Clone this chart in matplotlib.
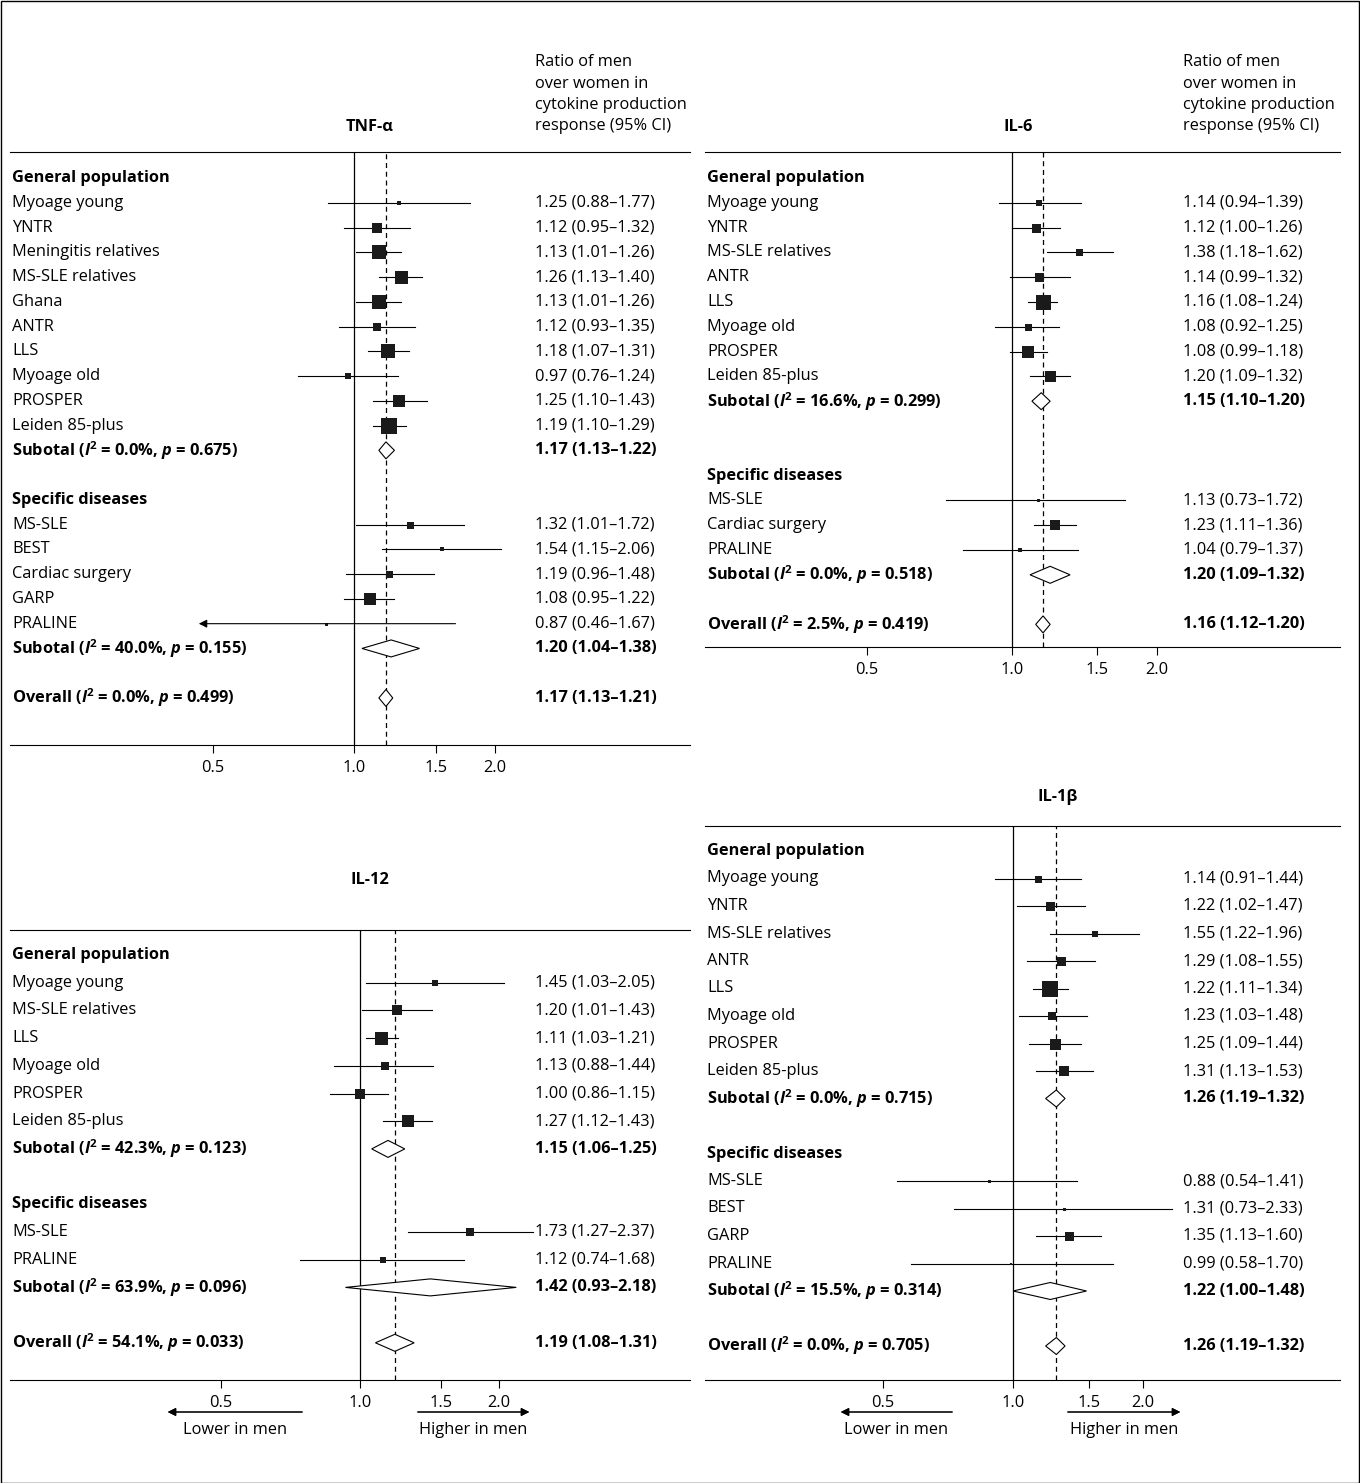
import matplotlib.pyplot as plt
import matplotlib.transforms as mtransforms
from matplotlib.patches import Polygon, Rectangle

plt.rcParams['font.family'] = ['Open Sans', 'DejaVu Sans']
plt.rcParams['mathtext.fontset'] = 'custom'
plt.rcParams['mathtext.rm'] = 'Open Sans'
plt.rcParams['mathtext.it'] = 'Open Sans:italic'
plt.rcParams['mathtext.bf'] = 'Open Sans:bold'
plt.rcParams['mathtext.bfit'] = 'Open Sans:bold:italic'

W, H = 1360, 1483
FS = 11.8

# ---- data ----
tnf_names = ['Myoage young', 'YNTR', 'Meningitis relatives', 'MS-SLE relatives', 'Ghana', 'ANTR', 'LLS',
             'Myoage old', 'PROSPER', 'Leiden 85-plus', 'MS-SLE', 'BEST', 'Cardiac surgery', 'GARP', 'PRALINE']
tnf_est = [1.25, 1.12, 1.13, 1.26, 1.13, 1.12, 1.18, 0.97, 1.25, 1.19, 1.32, 1.54, 1.19, 1.08, 0.87]
tnf_lo = [0.88, 0.95, 1.01, 1.13, 1.01, 0.93, 1.07, 0.76, 1.10, 1.10, 1.01, 1.15, 0.96, 0.95, 0.46]
tnf_hi = [1.77, 1.32, 1.26, 1.40, 1.26, 1.35, 1.31, 1.24, 1.43, 1.29, 1.72, 2.06, 1.48, 1.22, 1.67]
tnf_size = [5, 10, 14, 13, 14, 8, 14, 6, 12, 16, 7, 5, 7, 12, 3]
tnf_ngen = 10
tnf_sum_est = [1.17, 1.20, 1.17]
tnf_sum_lo = [1.13, 1.04, 1.13]
tnf_sum_hi = [1.22, 1.38, 1.21]
tnf_i2 = ['0.0', '40.0', '0.0']
tnf_p = ['0.675', '0.155', '0.499']

il6_names = ['Myoage young', 'YNTR', 'MS-SLE relatives', 'ANTR', 'LLS', 'Myoage old', 'PROSPER',
             'Leiden 85-plus', 'MS-SLE', 'Cardiac surgery', 'PRALINE']
il6_est = [1.14, 1.12, 1.38, 1.14, 1.16, 1.08, 1.08, 1.20, 1.13, 1.23, 1.04]
il6_lo = [0.94, 1.00, 1.18, 0.99, 1.08, 0.92, 0.99, 1.09, 0.73, 1.11, 0.79]
il6_hi = [1.39, 1.26, 1.62, 1.32, 1.24, 1.25, 1.18, 1.32, 1.72, 1.36, 1.37]
il6_size = [6, 9, 7, 9, 15, 7, 12, 11, 3, 10, 4]
il6_ngen = 8
il6_sum_est = [1.15, 1.20, 1.16]
il6_sum_lo = [1.10, 1.09, 1.12]
il6_sum_hi = [1.20, 1.32, 1.20]
il6_i2 = ['16.6', '0.0', '2.5']
il6_p = ['0.299', '0.518', '0.419']

il12_names = ['Myoage young', 'MS-SLE relatives', 'LLS', 'Myoage old', 'PROSPER', 'Leiden 85-plus',
              'MS-SLE', 'PRALINE']
il12_est = [1.45, 1.20, 1.11, 1.13, 1.00, 1.27, 1.73, 1.12]
il12_lo = [1.03, 1.01, 1.03, 0.88, 0.86, 1.12, 1.27, 0.74]
il12_hi = [2.05, 1.43, 1.21, 1.44, 1.15, 1.43, 2.37, 1.68]
il12_size = [6, 10, 13, 8, 10, 12, 8, 6]
il12_ngen = 6
il12_sum_est = [1.15, 1.42, 1.19]
il12_sum_lo = [1.06, 0.93, 1.08]
il12_sum_hi = [1.25, 2.18, 1.31]
il12_i2 = ['42.3', '63.9', '54.1']
il12_p = ['0.123', '0.096', '0.033']

il1b_names = ['Myoage young', 'YNTR', 'MS-SLE relatives', 'ANTR', 'LLS', 'Myoage old', 'PROSPER',
              'Leiden 85-plus', 'MS-SLE', 'BEST', 'GARP', 'PRALINE']
il1b_est = [1.14, 1.22, 1.55, 1.29, 1.22, 1.23, 1.25, 1.31, 0.88, 1.31, 1.35, 0.99]
il1b_lo = [0.91, 1.02, 1.22, 1.08, 1.11, 1.03, 1.09, 1.13, 0.54, 0.73, 1.13, 0.58]
il1b_hi = [1.44, 1.47, 1.96, 1.55, 1.34, 1.48, 1.44, 1.53, 1.41, 2.33, 1.60, 1.70]
il1b_size = [7, 9, 6, 9, 16, 8, 11, 10, 3, 3, 9, 2]
il1b_ngen = 8
il1b_sum_est = [1.26, 1.22, 1.26]
il1b_sum_lo = [1.19, 1.00, 1.19]
il1b_sum_hi = [1.32, 1.48, 1.32]
il1b_i2 = ['0.0', '15.5', '0.0']
il1b_p = ['0.715', '0.314', '0.705']

fig = plt.figure(figsize=(W / 100, H / 100), dpi=100)
fig.patches.append(Rectangle((0.5 / W, 0.5 / H), 1 - 1.5 / W, 1 - 1.5 / H, transform=fig.transFigure,
                             fill=False, lw=1, color='black'))


def ftext(px, py, s, **kw):
    fig.text(px / W, 1 - py / H, s, fontsize=FS, **kw)


def panel(names, est, lo, hi, size, ngen, s_est, s_lo, s_hi, i2, p,
          xl, xr, T, B, y0, step, x1, ppd, valx, gap):
    ax = fig.add_axes([xl / W, 1 - B / H, (xr - xl) / W, (B - T) / H])
    ax.set_xscale('log')
    ax.set_xlim(2 ** (-(x1 - xl) / ppd), 2 ** ((xr - x1) / ppd))
    ax.set_ylim((B - y0) / step, (T - y0) / step)
    for sp in ['left', 'right']:
        ax.spines[sp].set_visible(False)
    ax.spines['top'].set_linewidth(0.8)
    ax.spines['bottom'].set_linewidth(0.8)
    ax.set_yticks([])
    ax.set_xticks([0.5, 1.0, 1.5, 2.0])
    ax.set_xticklabels(['0.5', '1.0', '1.5', '2.0'], fontsize=FS)
    ax.minorticks_off()
    ax.tick_params(axis='x', length=6, width=0.8, pad=5, direction='out')
    tr = mtransforms.blended_transform_factory(ax.transAxes, ax.transData)
    lx = (12 - xl) / (xr - xl) if xl < 100 else (707 - xl) / (xr - xl)
    vx = (valx - xl) / (xr - xl)

    n = len(names)
    rows = list(range(1, ngen + 1)) + list(range(ngen + 2 + gap, ngen + 2 + gap + n - ngen))
    sub1 = ngen + 1
    sd = ngen + 1 + gap
    sub2 = rows[-1] + 1
    ov = sub2 + 2
    ax.axvline(1.0, color='black', lw=0.9)
    ax.axvline(s_est[2], color='black', lw=0.9, ls=(0, (4, 3)))

    ax.text(lx, 0, 'General population', transform=tr, fontsize=FS, fontweight='bold', va='center')
    ax.text(lx, sd, 'Specific diseases', transform=tr, fontsize=FS, fontweight='bold', va='center')
    for i in range(n):
        y = rows[i]
        ax.text(lx, y, names[i], transform=tr, fontsize=FS, va='center')
        ax.text(vx, y, f'{est[i]:.2f} ({lo[i]:.2f}–{hi[i]:.2f})', transform=tr, fontsize=FS, va='center')
        if lo[i] < 0.5:
            ax.annotate('', xy=(lo[i], y), xytext=(hi[i], y),
                        arrowprops=dict(arrowstyle='-|>', color='black', lw=0.8, mutation_scale=12))
        else:
            ax.plot([lo[i], hi[i]], [y, y], color='black', lw=0.8)
        ax.plot(est[i], y, marker='s', color='#1a1a1a', ms=size[i] * 0.72, mew=0)

    labels = ['Subotal', 'Subotal', 'Overall']
    for k, y in enumerate([sub1, sub2, ov]):
        d = 8.5 / step
        ax.add_patch(Polygon([(s_lo[k], y), (s_est[k], y - d), (s_hi[k], y), (s_est[k], y + d)],
                             closed=True, facecolor='white', edgecolor='black', lw=0.8, zorder=3))
        ax.text(lx, y, rf'{labels[k]} ($\mathbfit{{I}}^\mathbf{{2}}$ = {i2[k]}%, $\mathbfit{{p}}$ = {p[k]})',
                transform=tr, fontsize=FS, fontweight='bold', va='center')
        ax.text(vx, y, f'{s_est[k]:.2f} ({s_lo[k]:.2f}–{s_hi[k]:.2f})', transform=tr, fontsize=FS,
                fontweight='bold', va='center')
    return ax


panel(tnf_names, tnf_est, tnf_lo, tnf_hi, tnf_size, tnf_ngen, tnf_sum_est, tnf_sum_lo, tnf_sum_hi,
      tnf_i2, tnf_p, 10, 690, 152, 745, 178, 24.76, 354, 141, 535, 2)
panel(il6_names, il6_est, il6_lo, il6_hi, il6_size, il6_ngen, il6_sum_est, il6_sum_lo, il6_sum_hi,
      il6_i2, il6_p, 705, 1340, 152, 647, 178, 24.8, 1012, 145, 1183, 3)
panel(il12_names, il12_est, il12_lo, il12_hi, il12_size, il12_ngen, il12_sum_est, il12_sum_lo, il12_sum_hi,
      il12_i2, il12_p, 10, 690, 930, 1380, 955, 27.7, 360, 139, 535, 2)
panel(il1b_names, il1b_est, il1b_lo, il1b_hi, il1b_size, il1b_ngen, il1b_sum_est, il1b_sum_lo, il1b_sum_hi,
      il1b_i2, il1b_p, 705, 1340, 826, 1380, 851, 27.5, 1013, 130, 1183, 2)

ratio = ['Ratio of men', 'over women in', 'cytokine production', 'response (95% CI)']
for vx in [535, 1183]:
    for j, s in enumerate(ratio):
        ftext(vx, 62 + j * 21.5, s, va='center')
ftext(370, 127, 'TNF-α', ha='center', va='center', fontweight='bold')
ftext(1018, 127, 'IL-6', ha='center', va='center', fontweight='bold')
ftext(370, 880, 'IL-12', ha='center', va='center', fontweight='bold')
ftext(1058, 797, 'IL-1β', ha='center', va='center', fontweight='bold')

for a, b, c, d, yy in [(305, 165, 415, 532, 1412), (955, 838, 1065, 1183, 1412)]:
    for s, e in [(a, b), (c, d)]:
        fig.add_artist(plt.annotate('', xy=(e / W, 1 - yy / H), xytext=(s / W, 1 - yy / H),
                                    xycoords='figure fraction', textcoords='figure fraction',
                                    arrowprops=dict(arrowstyle='-|>', color='black', lw=0.8,
                                                    mutation_scale=12)))
    ftext((a + b) / 2, yy + 18, 'Lower in men', ha='center', va='center')
    ftext((c + d) / 2, yy + 18, 'Higher in men', ha='center', va='center')

fig.savefig('out.png', dpi=100)
